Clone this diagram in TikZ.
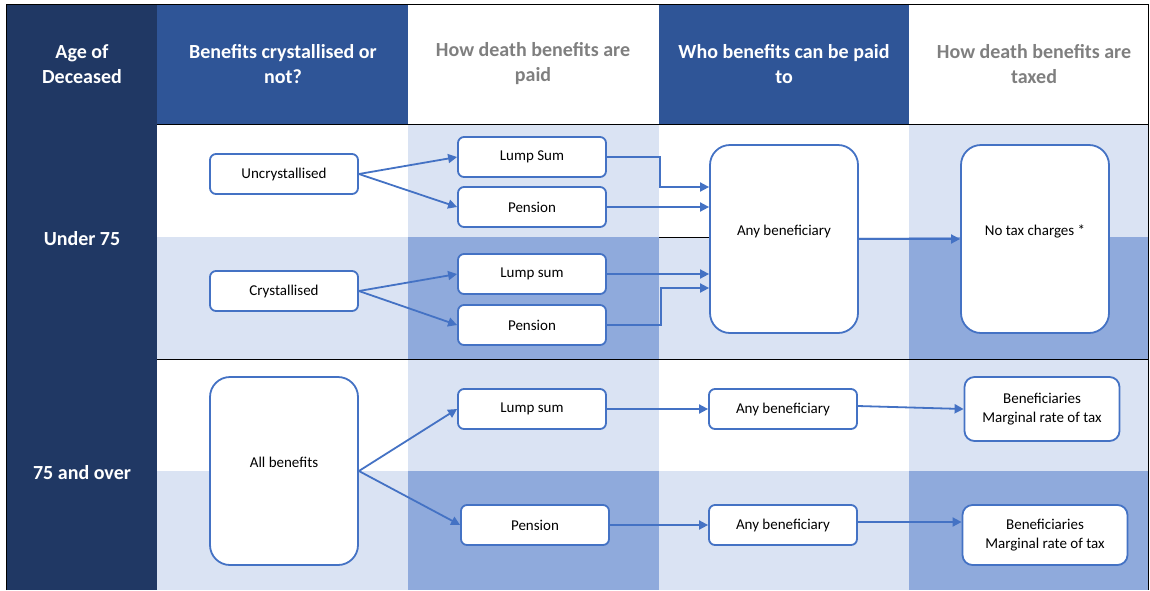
\documentclass[tikz,border=0pt]{standalone}
\usepackage{fontspec}
\setmainfont{Carlito}
\usetikzlibrary{arrows.meta}

\definecolor{navy}{HTML}{203864}
\definecolor{hdblue}{HTML}{2F5597}
\definecolor{lightbl}{HTML}{DAE3F3}
\definecolor{midbl}{HTML}{8FAADC}
\definecolor{boxblue}{HTML}{4472C4}
\definecolor{hdgrey}{HTML}{7F7F7F}

\begin{document}
\begin{tikzpicture}[x=1pt,y=-1pt]
\useasboundingbox (0,0) rectangle (1150,590);

% table cells
\fill[navy] (6,4) rectangle (157,590);
\fill[hdblue] (157,4) rectangle (408,124);
\fill[hdblue] (659,4) rectangle (909,124);
\foreach \ya/\yb in {124/237,359/471} {
    \fill[lightbl] (408,\ya) rectangle (659,\yb);
    \fill[lightbl] (909,\ya) rectangle (1148,\yb);
}
\foreach \ya/\yb in {237/359,471/590} {
    \fill[lightbl] (157,\ya) rectangle (408,\yb);
    \fill[midbl] (408,\ya) rectangle (659,\yb);
    \fill[lightbl] (659,\ya) rectangle (909,\yb);
    \fill[midbl] (909,\ya) rectangle (1148,\yb);
}
\draw (6,590) -- (6,4) -- (1148,4) -- (1148,590);
\draw (157,124) -- (1148,124);
\draw (157,359) -- (1148,359);
\draw (659,237) -- (710,237);

% headings
\begin{scope}[every node/.style={align=center,font=\bfseries\fontsize{20}{25}\selectfont}]
    \node[white] (hage) at (82,64) {Age of\\Deceased};
    \node[white] (hcry) at (283,64) {Benefits crystallised or\\not?};
    \node[hdgrey] (hpaid) at (533,64) {How death benefits are\\paid};
    \node[white] (hwho) at (784,64) {Who benefits can be paid\\to};
    \node[hdgrey] (htax) at (1034,64) {How death benefits are\\taxed};
    \node[white] (under) at (82,239) {Under 75};
    \node[white] (over) at (82,473) {75 and over};
\end{scope}

% boxes
\begin{scope}[every node/.style={draw=boxblue,line width=1.8pt,fill=white,
              rounded corners=6pt,minimum width=148pt,minimum height=40pt,
              align=center,font=\fontsize{15}{19}\selectfont}]
    \node (unc) at (284,174) {Uncrystallised};
    \node (cry) at (284,291) {Crystallised};
    \node[rounded corners=20pt,minimum height=188pt,text depth=17pt] (allb) at (284,471) {All benefits};
    \node (lsA) at (532,157) {Lump Sum};
    \node (penA) at (532,207) {Pension};
    \node (lsB) at (532,274) {Lump sum};
    \node (penB) at (532,325) {Pension};
    \node (lsC) at (532,409) {Lump sum};
    \node (penD) at (535,525) {Pension};
    \node[rounded corners=20pt,minimum height=188pt,text depth=17pt] (anyAB) at (784,239) {Any beneficiary};
    \node[rounded corners=20pt,minimum height=188pt,text depth=17pt] (notax) at (1035,239) {No tax charges *};
    \node (anyC) at (783,409) {Any beneficiary};
    \node (anyD) at (783,525) {Any beneficiary};
    \node[rounded corners=10pt,minimum width=155pt,minimum height=64pt] (benC) at (1042,409) {Beneficiaries\\Marginal rate of tax};
    \node[rounded corners=10pt,minimum width=165pt,minimum height=60pt] (benD) at (1045,535) {Beneficiaries\\Marginal rate of tax};
\end{scope}

% connectors
\begin{scope}[>={Triangle[length=9pt,width=9pt]},
              every path/.style={draw=boxblue,line width=1.8pt,fill=none}]
    \draw[->] (unc.east) -- (lsA.west);
    \draw[->] (unc.east) -- (penA.west);
    \draw[->] (cry.east) -- (lsB.west);
    \draw[->] (cry.east) -- (penB.west);
    \draw[->] (allb.east) -- (lsC.west);
    \draw[->] (allb.east) -- (penD.west);
    \draw[->] (lsA.east) -- ++(53,0) |- ([yshift=52pt]anyAB.west);
    \draw[->] (penA.east) -- (penA.east -| anyAB.west);
    \draw[->] (lsB.east) -- (lsB.east -| anyAB.west);
    \draw[->] (penB.east) -- ++(54,0) |- ([yshift=-49pt]anyAB.west);
    \draw[->] (anyAB.east) -- (notax.west);
    \draw[->] (lsC.east) -- (anyC.west);
    \draw[->] (penD.east) -- (anyD.west);
    \draw[->] ([yshift=3pt]anyC.east) -- (benC.west);
    \draw[->] ([yshift=3pt]anyD.east) -- ([yshift=3pt]anyD.east -| benD.west);
\end{scope}
\end{tikzpicture}
\end{document}
